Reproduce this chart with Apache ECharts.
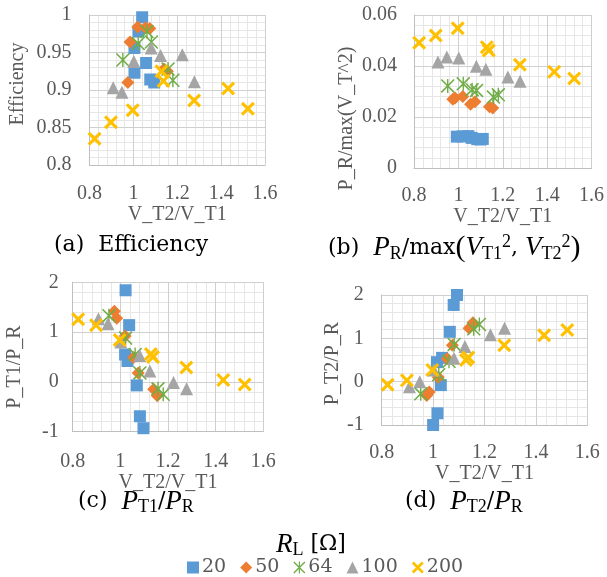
<!DOCTYPE html>
<html><head><meta charset="utf-8">
<script src="https://cdn.jsdelivr.net/npm/echarts@6/dist/echarts.min.js"></script>
<style>html,body{margin:0;padding:0;background:#fff}#c{width:607px;height:577px}</style>
</head><body><div id="c"></div>
<script>
// ---- data ----
const seriesNames = ['20', '50', '64', '100', '200'];
const xAxisTitle = 'V_T2/V_T1';
const yAxisTitles = ['Efficiency', 'P_R/max(V_T^2)', 'P_T1/P_R', 'P_T2/P_R'];

// R_L = 20 (x read separately per panel)
const x20_eff = [1.040, 1.023, 1.005, 1.005, 1.058, 1.077, 1.095];
const eff20   = [0.997, 0.978, 0.956, 0.923, 0.936, 0.914, 0.910];
const x20_pr  = [0.993, 1.020, 1.045, 1.060, 1.085, 1.100, 1.110];
const pr20    = [0.0123, 0.0124, 0.0125, 0.0118, 0.0113, 0.0112, 0.0114];
const x20_pt1 = [1.022, 1.037, 1.020, 1.030, 1.069, 1.082, 1.097];
const pt1_20  = [1.84, 1.14, 0.55, 0.42, -0.07, -0.69, -0.93];
const x20_pt2 = [1.000, 1.017, 1.030, 1.015, 1.035, 1.065, 1.080, 1.093];
const pt2_20  = [-1.00, -0.73, -0.08, 0.45, 0.55, 1.15, 1.77, 2.00];

// R_L = 50
const x50   = [0.975, 0.985, 1.020, 1.055, 1.075, 1.140, 1.155];
const eff50 = [0.910, 0.964, 0.984, 0.983, 0.982, 0.928, 0.925];
const pr50  = [0.0270, 0.0275, 0.0280, 0.0250, 0.0260, 0.0240, 0.0235];
const pt1_50 = [1.42, 1.28, 0.92, 0.49, 0.18, -0.15, -0.28];
const pt2_50 = [-0.32, -0.24, 0.10, 0.53, 0.84, 1.23, 1.36];

// R_L = 64
const x64   = [0.952, 1.022, 1.062, 1.082, 1.158, 1.180];
const eff64 = [0.940, 0.962, 0.978, 0.964, 0.928, 0.913];
const pr64  = [0.0322, 0.0330, 0.0307, 0.0304, 0.0278, 0.0287];
const pt1_64 = [1.33, 0.88, 0.55, 0.18, -0.14, -0.25];
const pt2_64 = [-0.28, 0.16, 0.47, 0.86, 1.22, 1.32];

// R_L = 100
const x100   = [0.908, 0.948, 1.002, 1.081, 1.124, 1.223, 1.278];
const eff100 = [0.903, 0.897, 0.938, 0.956, 0.946, 0.947, 0.911];
const pr100  = [0.0416, 0.0435, 0.0431, 0.0399, 0.0387, 0.0357, 0.0340];
const pt1_100 = [1.27, 1.17, 0.80, 0.53, 0.22, -0.01, -0.14];
const pt2_100 = [-0.12, 0.00, 0.27, 0.54, 0.81, 1.08, 1.23];

// R_L = 200
const x200   = [0.823, 0.898, 0.997, 1.128, 1.137, 1.277, 1.432, 1.522];
const eff200 = [0.835, 0.857, 0.873, 0.925, 0.912, 0.886, 0.902, 0.875];
const pr200  = [0.0491, 0.0520, 0.0548, 0.0474, 0.0461, 0.0405, 0.0377, 0.0351];
const pt1_200 = [1.26, 1.14, 0.84, 0.56, 0.50, 0.29, 0.04, -0.05];
const pt2_200 = [-0.07, 0.03, 0.27, 0.50, 0.56, 0.84, 1.07, 1.19];

// axis ranges per panel (major interval, minor interval)
const xRange = {min: 0.8, max: 1.6, interval: 0.2, minor: 0.04};
const yRanges = [
  {min: 0.8, max: 1, interval: 0.05, minor: 0.01},
  {min: 0, max: 0.06, interval: 0.02, minor: 0.004},
  {min: -1, max: 2, interval: 1, minor: 0.2},
  {min: -1, max: 2, interval: 1, minor: 0.2}
];

// ---- build ----
const zip = (xs, ys) => ys.map((y, i) => [xs[i], y]);
const panelData = [
  [zip(x20_eff, eff20), zip(x50, eff50), zip(x64, eff64), zip(x100, eff100), zip(x200, eff200)],
  [zip(x20_pr, pr20), zip(x50, pr50), zip(x64, pr64), zip(x100, pr100), zip(x200, pr200)],
  [zip(x20_pt1, pt1_20), zip(x50, pt1_50), zip(x64, pt1_64), zip(x100, pt1_100), zip(x200, pt1_200)],
  [zip(x20_pt2, pt2_20), zip(x50, pt2_50), zip(x64, pt2_64), zip(x100, pt2_100), zip(x200, pt2_200)]
];

const colors = ['#5B9BD5', '#ED7D31', '#70AD47', '#A5A5A5', '#FFC000'];
const X_PATH = 'path://M0,1.6L1.6,0L5,3.4L8.4,0L10,1.6L6.6,5L10,8.4L8.4,10L5,6.6L1.6,10L0,8.4L3.4,5Z';
const STAR_PATH = 'path://M0,0.8L0.8,0L10,9.2L9.2,10Z M9.2,0L10,0.8L0.8,10L0,9.2Z M4.5,0L5.5,0L5.5,10L4.5,10Z';
const symbols = ['rect', 'diamond', STAR_PATH, 'triangle', X_PATH];
const sizes = [12, 13, 14, 13, 14];

const FONT = 'Liberation Serif';
const AX = '#595959';

const grids = [
  {left: 89.5, top: 15, width: 175.5, height: 150},
  {left: 414, top: 15, width: 179, height: 153},
  {left: 72.7, top: 282.3, width: 190.6, height: 149.4},
  {left: 381.7, top: 295, width: 205.6, height: 130}
];
const xNameGap = [37, 34, 32, 37];
const xLabelMargin = [19, 18, 20, 18];
const yNameGap = [62, 57, 48, 37];
const yNamePad = [[0, 0, 0, 12], [0, 54, 0, 0], [0, 20, 0, 0], [0, 7, 0, 0]];
const yLabelMargin = [18, 17, 14, 18];

const mainAxis = {
  z: 2,
  axisTick: {show: false},
  axisLine: {show: true, onZero: false, lineStyle: {color: '#BFBFBF', width: 1}},
  splitLine: {show: true, lineStyle: {color: '#CFCFCF', width: 1}}
};
const minorAxis = {
  z: 1,
  axisTick: {show: false},
  axisLabel: {show: false},
  axisLine: {show: false, onZero: false},
  splitLine: {show: true, lineStyle: {color: '#E6E6E6', width: 1}}
};

const xAxis = grids.map((g, i) => Object.assign({}, mainAxis, {
  type: 'value', gridIndex: i, min: xRange.min, max: xRange.max, interval: xRange.interval,
  name: xAxisTitle, nameLocation: 'middle', nameGap: xNameGap[i],
  nameTextStyle: {fontFamily: FONT, fontSize: 20, color: AX},
  axisLabel: {fontFamily: FONT, fontSize: 20, color: AX, margin: xLabelMargin[i]}
})).concat(grids.map((g, i) => Object.assign({}, minorAxis, {
  type: 'value', gridIndex: i, min: xRange.min, max: xRange.max, interval: xRange.minor
})));
const yAxis = grids.map((g, i) => Object.assign({}, mainAxis, {
  type: 'value', gridIndex: i, min: yRanges[i].min, max: yRanges[i].max, interval: yRanges[i].interval,
  name: yAxisTitles[i], nameLocation: 'middle', nameGap: yNameGap[i],
  nameTextStyle: {fontFamily: FONT, fontSize: 20, color: AX, padding: yNamePad[i]},
  axisLabel: {fontFamily: FONT, fontSize: 20, color: AX, margin: yLabelMargin[i]}
})).concat(grids.map((g, i) => Object.assign({}, minorAxis, {
  type: 'value', gridIndex: i, min: yRanges[i].min, max: yRanges[i].max, interval: yRanges[i].minor
})));

const series = [];
panelData.forEach((panel, p) => {
  panel.forEach((d, s) => {
    series.push({
      type: 'scatter', name: seriesNames[s], xAxisIndex: p, yAxisIndex: p,
      data: d, symbol: symbols[s], symbolSize: sizes[s], clip: false, z: 3,
      itemStyle: {color: colors[s], opacity: 1}
    });
  });
});

const CAP = 'DejaVu Serif';
const capRich = {
  n: {fontFamily: CAP, fontSize: 22, color: '#000', lineHeight: 30, verticalAlign: 'middle'},
  i: {fontFamily: 'Liberation Serif', fontStyle: 'italic', fontSize: 27, color: '#000', lineHeight: 30, verticalAlign: 'middle'},
  s: {fontFamily: 'Liberation Serif', fontSize: 18, color: '#000', lineHeight: 16, verticalAlign: 'bottom'},
  p: {fontFamily: 'Liberation Serif', fontSize: 18, color: '#000', lineHeight: 16, verticalAlign: 'top'},
  b: {fontFamily: 'Liberation Serif', fontSize: 30, color: '#000', lineHeight: 30, verticalAlign: 'middle'}
};
const cap = (x, y, text) => ({type: 'text', left: x, top: y, style: {text: text, rich: capRich}});

const option = {
  animation: false,
  backgroundColor: '#fff',
  grid: grids,
  xAxis: xAxis,
  yAxis: yAxis,
  series: series,
  legend: {
    data: seriesNames.map((n, i) => ({name: n, icon: symbols[i]})),
    left: 182, top: 553, itemWidth: 12, itemHeight: 12, itemGap: 14,
    textStyle: {fontFamily: CAP, fontSize: 19, color: AX, padding: [0, 0, 0, -2]},
    selectedMode: false
  },
  graphic: [
    cap(54, 234, '{n|(a)  Efficiency}'),
    cap(328, 233, '{n|(b)  }{i|P}{s|R}{n|/max}{b|(}{i|V}{s|T1}{p|2}{n|, }{i|V}{s|T2}{p|2}{b|)}'),
    cap(78, 488, '{n|(c)  }{i|P}{s|T1}{n|/}{i|P}{s|R}'),
    cap(405, 488, '{n|(d)  }{i|P}{s|T2}{n|/}{i|P}{s|R}'),
    cap(276, 531, '{i|R}{s|L}{n| [Ω]}')
  ]
};

const chart = echarts.init(document.getElementById('c'), null, {renderer: 'canvas'});
chart.setOption(option);
</script>
</body></html>
